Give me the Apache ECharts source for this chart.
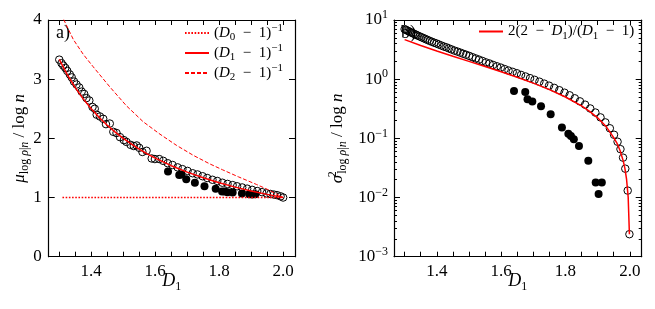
<!DOCTYPE html>
<html><head><meta charset="utf-8">
<script src="https://cdn.jsdelivr.net/npm/echarts@6/dist/echarts.min.js"></script>
<style>html,body{margin:0;padding:0;background:#fff}#c{width:655px;height:309px}</style>
</head><body><div id="c"></div>
<script>
// ---------- data ----------
// Panel a: mean, open circles
const muOpenD1 = [1.300,1.307,1.3125,1.319,1.325,1.333,1.339,1.346,1.354,1.3625,1.370,1.378,1.385,1.394,1.404,1.411,1.417,1.427,1.4375,1.446,1.458,1.469,1.479,1.490,1.502,1.510,1.523,1.533,1.542,1.550,1.560,1.573,1.589,1.599,1.6125,1.625,1.639,1.654,1.670,1.685,1.701,1.717,1.732,1.748,1.7625,1.779,1.794,1.810,1.826,1.842,1.856,1.872,1.8875,1.903,1.919,1.934,1.948,1.960,1.971,1.981,1.992,2.000];
const muOpenVal = [3.33,3.27,3.23,3.19,3.14,3.08,3.03,2.96,2.91,2.86,2.79,2.75,2.68,2.64,2.53,2.50,2.40,2.37,2.33,2.24,2.25,2.11,2.09,2.02,1.97,1.94,1.89,1.87,1.88,1.84,1.77,1.79,1.66,1.65,1.65,1.62,1.58,1.55,1.51,1.48,1.45,1.41,1.39,1.36,1.33,1.30,1.28,1.25,1.23,1.21,1.19,1.17,1.15,1.13,1.11,1.09,1.07,1.06,1.05,1.04,1.02,1.00];
// Filled dots (shared D1 for both panels)
const dotD1 = [1.640,1.675,1.682,1.697,1.724,1.754,1.789,1.809,1.817,1.826,1.842,1.871,1.894,1.903,1.913];
const muDotVal = [1.44,1.38,1.39,1.31,1.25,1.19,1.15,1.10,1.10,1.09,1.085,1.07,1.055,1.05,1.055];
const varDotVal = [0.63,0.61,0.46,0.42,0.35,0.255,0.152,0.12,0.11,0.097,0.074,0.042,0.018,0.0115,0.018];
// Panel a: reference curves
const d0X = [1.31, 2.00];
const d0Y = [1.0, 1.0];
const d1X = [1.30,1.325,1.35,1.375,1.40,1.425,1.45,1.475,1.50,1.525,1.55,1.575,1.60,1.65,1.70,1.75,1.80,1.85,1.90,1.95,2.00];
const d1Y = [3.333,3.077,2.857,2.667,2.5,2.353,2.222,2.105,2.0,1.905,1.818,1.739,1.667,1.538,1.429,1.333,1.25,1.176,1.111,1.053,1.0];
const d2X = [1.30,1.3146,1.344,1.375,1.406,1.458,1.51,1.5625,1.615,1.667,1.72,1.77,1.81,1.86,1.917,1.95,2.00];
const d2Y = [4.20,4.00,3.67,3.42,3.21,2.87,2.55,2.28,2.07,1.88,1.71,1.57,1.47,1.35,1.22,1.14,1.00];
// Panel b: variance, open circles
const varOpenD1 = [1.300,1.304,1.308,1.312,1.316,1.321,1.326,1.331,1.336,1.341,1.347,1.353,1.359,1.365,1.371,1.378,1.385,1.392,1.399,1.406,1.414,1.422,1.430,1.438,1.446,1.455,1.464,1.473,1.482,1.491,1.501,1.511,1.521,1.531,1.542,1.553,1.564,1.575,1.587,1.599,1.611,1.623,1.636,1.649,1.662,1.676,1.690,1.704,1.719,1.734,1.749,1.765,1.781,1.797,1.813,1.829,1.845,1.861,1.877,1.893,1.909,1.924,1.938,1.951,1.962,1.971,1.979,1.986,1.9935,1.9988];
const varOpenVal = [7.0,6.82,6.65,6.48,6.32,6.13,5.95,5.78,5.61,5.45,5.27,5.10,4.93,4.77,4.61,4.44,4.28,4.13,4.01,3.86,3.71,3.56,3.45,3.31,3.18,3.04,2.93,2.81,2.69,2.59,2.47,2.35,2.24,2.14,2.03,1.92,1.84,1.74,1.65,1.57,1.48,1.40,1.33,1.26,1.18,1.11,1.04,0.975,0.907,0.841,0.777,0.713,0.651,0.591,0.534,0.475,0.422,0.371,0.320,0.273,0.226,0.186,0.148,0.115,0.0877,0.0657,0.0472,0.0307,0.0131,0.0024];
// Panel b: reference curve 2(2-D1)/(D1-1)
const varLineX = [1.30,1.35,1.40,1.45,1.50,1.55,1.60,1.65,1.70,1.75,1.80,1.85,1.875,1.90,1.925,1.95,1.96,1.97,1.98,1.985,1.99,1.995,1.9988];
const varLineY = [4.667,3.714,3.0,2.444,2.0,1.636,1.333,1.077,0.857,0.667,0.5,0.353,0.2857,0.2222,0.1622,0.1026,0.0833,0.0619,0.0408,0.0305,0.0202,0.01005,0.0024];
// ticks
const xTickLabels = [1.4, 1.6, 1.8, 2.0];
const xTicks = [1.30,1.35,1.40,1.45,1.50,1.55,1.60,1.65,1.70,1.75,1.80,1.85,1.90,1.95,2.00];
const muTicks = [0, 1, 2, 3, 4];
const varMajorTicks = [0.001, 0.01, 0.1, 1, 10];
const varMinorTicks = [0.002,0.003,0.004,0.005,0.006,0.007,0.008,0.009,0.02,0.03,0.04,0.05,0.06,0.07,0.08,0.09,0.2,0.3,0.4,0.5,0.6,0.7,0.8,0.9,2,3,4,5,6,7,8,9];

// ---------- chart ----------
const F = "'Liberation Serif','DejaVu Serif',serif";
const RED = '#ff0000';
function rich(size, small) {
  const base = {fontFamily: F, color: '#000'};
  return {
    n: Object.assign({}, base, {fontSize: size, lineHeight: size + 5}),
    i: Object.assign({}, base, {fontSize: size, lineHeight: size + 5, fontStyle: 'italic'}),
    sub: Object.assign({}, base, {fontSize: small, lineHeight: small + 1, verticalAlign: 'bottom'}),
    subi: Object.assign({}, base, {fontSize: small, lineHeight: small + 1, verticalAlign: 'bottom', fontStyle: 'italic'}),
    sup: Object.assign({}, base, {fontSize: small, lineHeight: small + 1, verticalAlign: 'top'}),
    sup0: Object.assign({}, base, {fontSize: small, lineHeight: small + 1, verticalAlign: 'top', width: 1})
  };
}
const pairs = (xs, ys) => xs.map((x, k) => [x, ys[k]]);
const XMIN = 1.267, XMAX = 2.037;
const frame = {show: true, onZero: false, lineStyle: {color: '#000', width: 1.2}};
const sp = '\u2002';

function xAxes(grid) {
  return [
    {gridIndex: grid, type: 'value', min: XMIN, max: XMAX, position: 'bottom',
     axisLine: frame, splitLine: {show: false},
     axisTick: {inside: true, length: 5, customValues: xTicks, lineStyle: {color: '#000', width: 1}},
     axisLabel: {customValues: xTickLabels, formatter: v => v.toFixed(1), fontFamily: F, fontSize: 17, color: '#000', margin: 6},
     name: '{i|D}{sub|1}', nameLocation: 'middle', nameGap: 13, nameMoveOverlap: false,
     nameTextStyle: {rich: rich(18, 12)}},
    {gridIndex: grid, type: 'value', min: XMIN, max: XMAX, position: 'top',
     axisLine: frame, splitLine: {show: false},
     axisTick: {inside: true, length: 5, customValues: xTicks, lineStyle: {color: '#000', width: 1}},
     axisLabel: {show: false}}
  ];
}

const option = {
  animation: false,
  backgroundColor: '#fff',
  grid: [
    {left: 48.7, top: 20, width: 246.3, height: 236.7, outerBoundsMode: 'none', containLabel: false},
    {left: 394, top: 20, width: 247.7, height: 236.7, outerBoundsMode: 'none', containLabel: false}
  ],
  xAxis: [].concat(xAxes(0), xAxes(1)),
  yAxis: [
    {gridIndex: 0, type: 'value', min: 0, max: 4, interval: 1, position: 'left',
     axisLine: frame, splitLine: {show: false},
     axisTick: {inside: true, length: 6, lineStyle: {color: '#000'}},
     axisLabel: {customValues: muTicks, fontFamily: F, fontSize: 17, color: '#000', margin: 7},
     name: '{i|μ}{sub|log }{subi|ρ}{sub||}{subi|n}{n| / log }{i|n}', nameLocation: 'middle', nameGap: 18,
     nameMoveOverlap: false, nameTextStyle: {rich: rich(17, 12)}},
    {gridIndex: 0, type: 'value', min: 0, max: 4, interval: 1, position: 'right',
     axisLine: frame, splitLine: {show: false},
     axisTick: {inside: true, length: 6, lineStyle: {color: '#000'}},
     axisLabel: {show: false}},
    {gridIndex: 1, type: 'log', logBase: 10, min: 0.001, max: 10, position: 'left',
     axisLine: frame, splitLine: {show: false},
     axisTick: {inside: true, length: 6, customValues: varMajorTicks, lineStyle: {color: '#000'}},
     axisLabel: {customValues: varMajorTicks, margin: 6,
       formatter: v => { const e = Math.round(Math.log10(v)); return '{n|10}{sup|' + (e < 0 ? '\u2212' + (-e) : e) + '}'; },
       rich: rich(17, 12)},
     name: '{i|σ}{sup0|2}{sub|log }{subi|ρ}{sub||}{subi|n}{n| / log }{i|n}', nameLocation: 'middle', nameGap: 45,
     nameMoveOverlap: false, nameTextStyle: {rich: rich(17, 12)}},
    {gridIndex: 1, type: 'log', logBase: 10, min: 0.001, max: 10, position: 'left',
     axisLine: {show: false}, splitLine: {show: false},
     axisTick: {inside: true, length: 3, customValues: varMinorTicks, lineStyle: {color: '#000'}},
     axisLabel: {show: false}},
    {gridIndex: 1, type: 'log', logBase: 10, min: 0.001, max: 10, position: 'right',
     axisLine: frame, splitLine: {show: false},
     axisTick: {inside: true, length: 6, customValues: varMajorTicks, lineStyle: {color: '#000'}},
     axisLabel: {show: false}},
    {gridIndex: 1, type: 'log', logBase: 10, min: 0.001, max: 10, position: 'right',
     axisLine: {show: false}, splitLine: {show: false},
     axisTick: {inside: true, length: 3, customValues: varMinorTicks, lineStyle: {color: '#000'}},
     axisLabel: {show: false}}
  ],
  legend: [
    {data: ['D0', 'D1', 'D2'], orient: 'vertical', left: 179, top: 18, itemWidth: 24, itemHeight: 10, itemGap: 0,
     selectedMode: false, itemStyle: {opacity: 0},
     formatter: name => ({
       D0: '{n|(}{i|D}{sub|0}{n|' + sp + '\u2212' + sp + '1)}{sup|\u22121}',
       D1: '{n|(}{i|D}{sub|1}{n|' + sp + '\u2212' + sp + '1)}{sup|\u22121}',
       D2: '{n|(}{i|D}{sub|2}{n|' + sp + '\u2212' + sp + '1)}{sup|\u22121}'
     })[name],
     textStyle: {rich: rich(15, 11)}},
    {data: ['V'], orient: 'vertical', left: 473, top: 19, itemWidth: 24, itemHeight: 10, selectedMode: false,
     itemStyle: {opacity: 0},
     formatter: () => '{n|2(2' + sp + '\u2212' + sp + '}{i|D}{sub|1}{n|)/(}{i|D}{sub|1}{n|' + sp + '\u2212' + sp + '1)}',
     textStyle: {rich: rich(15, 11)}}
  ],
  graphic: [
    {type: 'text', left: 56, top: 24, z: 0, style: {text: 'a)', font: "18px 'Liberation Serif', serif", fill: '#000'}},
    {type: 'text', left: 401, top: 24, z: 0, style: {text: 'b)', font: "18px 'Liberation Serif', serif", fill: '#000'}}
  ],
  series: [
    {type: 'scatter', xAxisIndex: 0, yAxisIndex: 0, data: pairs(muOpenD1, muOpenVal), symbol: 'circle', symbolSize: 7.5,
     itemStyle: {color: 'rgba(255,255,255,0)', borderColor: '#000', borderWidth: 1, opacity: 1}, z: 3, silent: true},
    {type: 'scatter', xAxisIndex: 0, yAxisIndex: 0, data: pairs(dotD1, muDotVal), symbol: 'circle', symbolSize: 8,
     itemStyle: {color: '#000', opacity: 1}, z: 3, silent: true},
    {name: 'D0', type: 'line', xAxisIndex: 0, yAxisIndex: 0, data: pairs(d0X, d0Y), symbol: 'none', z: 5,
     lineStyle: {color: RED, width: 1.4, type: [1.6, 1.6], opacity: 1}, itemStyle: {color: RED}, silent: true},
    {name: 'D1', type: 'line', xAxisIndex: 0, yAxisIndex: 0, data: pairs(d1X, d1Y), symbol: 'none', smooth: false, z: 4,
     lineStyle: {color: RED, width: 1.5}, itemStyle: {color: RED}, silent: true},
    {name: 'D2', type: 'line', xAxisIndex: 0, yAxisIndex: 0, data: pairs(d2X, d2Y), symbol: 'none', z: 4, clip: true,
     lineStyle: {color: RED, width: 1, type: [4, 2]}, itemStyle: {color: RED}, silent: true},
    {type: 'scatter', xAxisIndex: 2, yAxisIndex: 2, data: pairs(varOpenD1, varOpenVal), symbol: 'circle', symbolSize: 7.5,
     itemStyle: {color: 'rgba(255,255,255,0)', borderColor: '#000', borderWidth: 1, opacity: 1}, z: 3, silent: true},
    {type: 'scatter', xAxisIndex: 2, yAxisIndex: 2, data: pairs(dotD1, varDotVal), symbol: 'circle', symbolSize: 8,
     itemStyle: {color: '#000', opacity: 1}, z: 3, silent: true},
    {name: 'V', type: 'line', xAxisIndex: 2, yAxisIndex: 2, data: pairs(varLineX, varLineY), symbol: 'none', z: 4,
     lineStyle: {color: RED, width: 1.5}, itemStyle: {color: RED}, silent: true}
  ]
};
const chart = echarts.init(document.getElementById('c'), null, {renderer: 'canvas'});
chart.setOption(option);
</script></body></html>
